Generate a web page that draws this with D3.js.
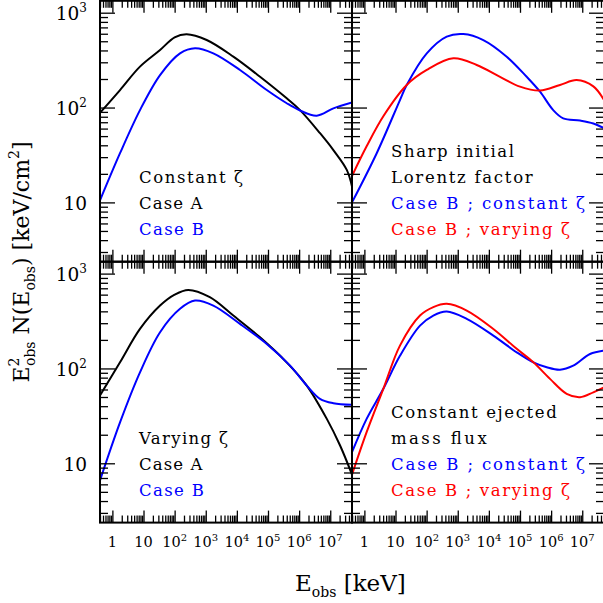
<!DOCTYPE html>
<html>
<head>
<meta charset="utf-8">
<script src="https://cdn.jsdelivr.net/npm/d3@7/dist/d3.min.js"></script>
<style>
html,body{margin:0;padding:0;background:#fff;}
svg{display:block;}
text{font-family:"DejaVu Serif","Liberation Serif",serif;}
</style>
</head>
<body>
<svg id="chart" width="603" height="603"></svg>
<script>
// ---------------- data ----------------
const energyConstA = [0.4, 1.76, 7.7, 34, 100, 244, 1070, 7700, 55500, 4.0e5, 1.07e6, 4.7e6, 1.26e7, 3.4e7, 5e7];
const fluxConstA   = [88, 153, 270, 404, 550, 592, 515, 344, 211, 125, 94, 53.6, 35.6, 22, 14.7];
const energyConstB = [0.4, 1.76, 7.7, 34, 149, 452, 1750, 12600, 91200, 4.0e5, 1.07e6, 3.68e6, 1.26e7, 5e7];
const fluxConstB   = [10.5, 33, 94, 220, 373, 422, 373, 249, 153, 111, 93, 82, 98, 113];

const energySharpConst = [0.4, 2.49, 13.9, 22.9, 101, 442, 1510, 6610, 37400, 164000, 440000, 1.17e6, 2.45e6, 8.5e6, 2.27e7, 5e7];
const fluxSharpConst   = [10, 33, 120, 173, 373, 560, 595, 515, 344, 211, 147, 94, 77, 73, 68, 60.5];
const energySharpVary  = [0.4, 1.18, 4.06, 22.9, 101, 721, 4070, 22800, 1e5, 440000, 1.93e6, 6.6e6, 2.27e7, 5e7];
const fluxSharpVary    = [19, 39, 81, 173, 249, 330, 281, 211, 166, 151, 173, 195, 167, 120];

const energyVaryA = [0.4, 1.76, 7.7, 34, 100, 275, 1350, 7690, 55500, 398000, 1.76e6, 7.76e6, 2.07e7, 5e7];
const fluxVaryA   = [52, 116, 261, 460, 600, 673, 564, 361, 213, 116, 66, 29.4, 15.4, 7.6];
const energyVaryB = [0.4, 1.76, 7.7, 34, 149, 452, 1750, 12600, 91200, 512000, 1.76e6, 4.68e6, 1.26e7, 5e7];
const fluxVaryB   = [6.6, 27, 91, 241, 425, 519, 460, 295, 181, 107, 66, 47.8, 43, 41.3];

const energyMassConst = [0.4, 1.18, 4.06, 13.9, 61.2, 164, 442, 1940, 13900, 78500, 269000, 723000, 1.93e6, 5.13e6, 1.78e7, 5e7];
const fluxMassConst   = [13.1, 29.4, 61, 136, 283, 361, 398, 333, 222, 148, 116, 103, 97, 107, 142, 154];
const energyMassVary  = [0.4, 1.18, 4.06, 13.9, 61.2, 164, 442, 1940, 13900, 78500, 269000, 920000, 3.16e6, 8.5e6, 2.27e7, 5e7];
const fluxMassVary    = [7.6, 21.3, 61, 174, 361, 443, 480, 408, 261, 161, 116, 77.6, 54, 49.8, 56, 63];

const xTickLabelValues = [1, 10, 1e2, 1e3, 1e4, 1e5, 1e6, 1e7];
const yTickLabelValues = [10, 100, 1000];

const textConstZeta = ["Constant ζ", "Case A", "Case B"];
const textVaryZeta  = ["Varying ζ", "Case A", "Case B"];
const textSharp     = ["Sharp initial", "Lorentz factor", "Case B ; constant ζ", "Case B ; varying ζ"];
const textMassFlux  = ["Constant ejected", "mass flux", "Case B ; constant ζ", "Case B ; varying ζ"];

const xTitle = ["E", "obs", " [keV]"];
const yTitle = ["E", "2", "obs", " N(E", "obs", ")  [keV/cm", "2", "]"];

// ---------------- layout ----------------
const BLACK = "#000000", BLUE = "#0000ff", RED = "#ff0000";
const L = 100, M = 352, R = 604, T = 0.8, MID = 261.7, B = 522.6;
const xDomain = [0.4, 5e7], yDomain = [2.37, 1335];

const panels = [
  { x0: L, x1: M, y0: T, y1: MID,
    series: [[energyConstA, fluxConstA, BLACK], [energyConstB, fluxConstB, BLUE]],
    text: textConstZeta, colors: [BLACK, BLACK, BLUE], tx: 139, ty: [183, 209, 235], tw: [104, 63.5, 65] },
  { x0: M, x1: R, y0: T, y1: MID,
    series: [[energySharpConst, fluxSharpConst, BLUE], [energySharpVary, fluxSharpVary, RED]],
    text: textSharp, colors: [BLACK, BLACK, BLUE, RED], tx: 391, ty: [157, 183, 209, 235], tw: [123, 141.7, 194, 179] },
  { x0: L, x1: M, y0: MID, y1: B,
    series: [[energyVaryA, fluxVaryA, BLACK], [energyVaryB, fluxVaryB, BLUE]],
    text: textVaryZeta, colors: [BLACK, BLACK, BLUE], tx: 139, ty: [444, 470, 496], tw: [89, 63.5, 65] },
  { x0: M, x1: R, y0: MID, y1: B,
    series: [[energyMassConst, fluxMassConst, BLUE], [energyMassVary, fluxMassVary, RED]],
    text: textMassFlux, colors: [BLACK, BLACK, BLUE, RED], tx: 391, ty: [418, 444, 470, 496], tw: [165.7, 95.7, 194, 179] }
];

const svg = d3.select("#chart");
const isMajor = d => Math.abs(Math.log10(d) - Math.round(Math.log10(d))) < 1e-9;
const X_MAJ = 12, X_MIN = 7, Y_MAJ = 15, Y_MIN = 8;

function supLabel(sel, d, big, small, rise) {
  const e = Math.round(Math.log10(d));
  if (e === 0) { sel.text("1"); return; }
  sel.append("tspan").attr("font-size", big).text("10");
  if (e !== 1) sel.append("tspan").attr("font-size", small).attr("dy", -rise).text(String(e));
}

panels.forEach((p, i) => {
  const x = d3.scaleLog().domain(xDomain).range([p.x0, p.x1]);
  const y = d3.scaleLog().domain(yDomain).range([p.y1, p.y0]);
  const g = svg.append("g");
  const clipId = "clip" + i;
  svg.append("clipPath").attr("id", clipId).append("rect")
    .attr("x", p.x0).attr("y", p.y0).attr("width", p.x1 - p.x0).attr("height", p.y1 - p.y0);

  // curves
  const line = d3.line().x(d => x(d[0])).y(d => y(d[1])).curve(d3.curveCatmullRom.alpha(0.5));
  p.series.forEach(s => {
    g.append("path").datum(d3.zip(s[0], s[1]))
      .attr("clip-path", `url(#${clipId})`)
      .attr("d", line).attr("fill", "none")
      .attr("stroke", s[2]).attr("stroke-width", 2).attr("stroke-linejoin", "round");
  });

  // ticks via d3 axes (inward on all four sides)
  const xt = x.ticks(40), yt = y.ticks(40);
  const axes = [
    { ax: d3.axisBottom(x).tickValues(xt), tr: `translate(0,${p.y1})`, attr: "y2", f: d => -(isMajor(d) ? X_MAJ : X_MIN) },
    { ax: d3.axisTop(x).tickValues(xt), tr: `translate(0,${p.y0})`, attr: "y2", f: d => (isMajor(d) ? X_MAJ : X_MIN) },
    { ax: d3.axisLeft(y).tickValues(yt), tr: `translate(${p.x0},0)`, attr: "x2", f: d => (isMajor(d) ? Y_MAJ : Y_MIN) },
    { ax: d3.axisRight(y).tickValues(yt), tr: `translate(${p.x1},0)`, attr: "x2", f: d => -(isMajor(d) ? Y_MAJ : Y_MIN) }
  ];
  axes.forEach(a => {
    const ag = g.append("g").attr("transform", a.tr).call(a.ax.tickFormat("").tickSizeOuter(0));
    ag.select(".domain").remove();
    ag.selectAll(".tick line").attr(a.attr, a.f).attr("stroke", "#000").attr("stroke-width", 1.3);
  });

  // frame
  g.append("rect").attr("x", p.x0).attr("y", p.y0).attr("width", p.x1 - p.x0).attr("height", p.y1 - p.y0)
    .attr("fill", "none").attr("stroke", "#000").attr("stroke-width", 2);

  // tick labels
  if (p.y1 === B) {
    g.selectAll(".xl").data(xTickLabelValues).join("text").attr("class", "xl")
      .attr("x", d => x(d)).attr("y", 547).attr("text-anchor", "middle").attr("font-size", 14.5)
      .attr("fill", BLACK)
      .each(function (d) { supLabel(d3.select(this), d, 14.5, 10, 6); });
  }
  if (p.x0 === L) {
    g.selectAll(".yl").data(yTickLabelValues).join("text").attr("class", "yl")
      .attr("x", 87).attr("y", d => y(d) + 7.5).attr("text-anchor", "end").attr("font-size", 18.5)
      .attr("fill", BLACK)
      .each(function (d) { supLabel(d3.select(this), d, 18.5, 12, 8); });
  }

  // annotations
  p.text.forEach((t, k) => {
    g.append("text").attr("x", p.tx).attr("y", p.ty[k]).attr("font-size", 16.5)
      .attr("fill", p.colors[k]).attr("textLength", p.tw[k]).attr("lengthAdjust", "spacing").text(t);
  });
});

// axis titles
const xtt = svg.append("text").attr("x", 295).attr("y", 591).attr("font-size", 23).attr("fill", BLACK);
xtt.append("tspan").text(xTitle[0]);
xtt.append("tspan").attr("font-size", 14).attr("dy", 6).text(xTitle[1]);
xtt.append("tspan").attr("dy", -6).text(xTitle[2]);

const ytt = svg.append("text").attr("transform", "translate(29,262) rotate(-90)")
  .attr("text-anchor", "middle").attr("font-size", 22).attr("fill", BLACK);
ytt.append("tspan").text(yTitle[0]);
ytt.append("tspan").attr("font-size", 14).attr("dy", -10).text(yTitle[1]);
ytt.append("tspan").attr("font-size", 14).attr("dx", -8.5).attr("dy", 16).text(yTitle[2]);
ytt.append("tspan").attr("dy", -6).text(yTitle[3]);
ytt.append("tspan").attr("font-size", 14).attr("dy", 6).text(yTitle[4]);
ytt.append("tspan").attr("dy", -6).text(yTitle[5]);
ytt.append("tspan").attr("font-size", 14).attr("dy", -10).text(yTitle[6]);
ytt.append("tspan").attr("dy", 10).text(yTitle[7]);
</script>
</body>
</html>
